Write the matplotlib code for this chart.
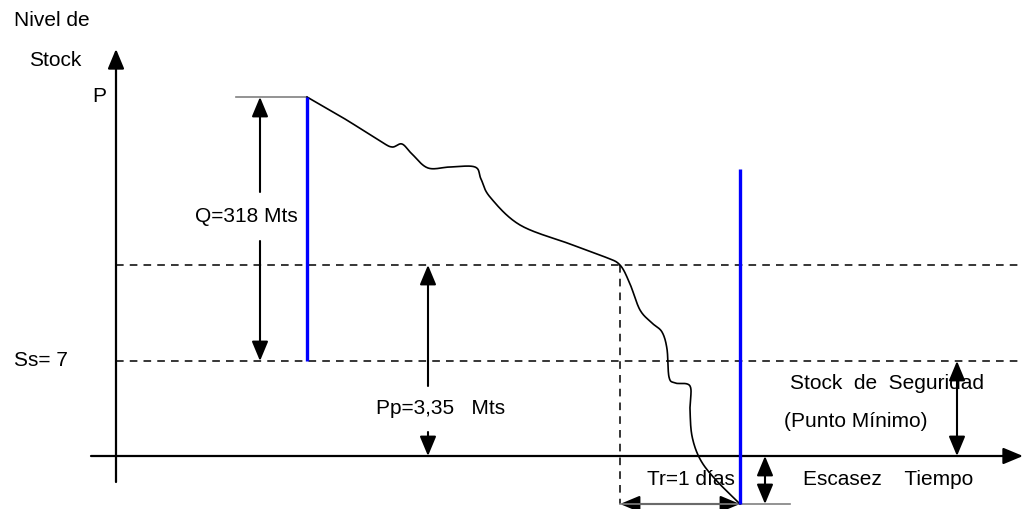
import numpy as np
import matplotlib
matplotlib.use("Agg")
import matplotlib.pyplot as plt
from matplotlib.patches import FancyArrowPatch

plt.rcParams['font.family'] = ['Liberation Sans', 'DejaVu Sans']

# diagram coordinates (pixel-like units, y grows downward)
axis_x, axis_y = 116, 457
p_level, reorder_level, ss_level = 98, 266, 362
order_x, arrival_x, reorder_x = 307, 740, 620
arrival_top, shortage_y = 170, 505

# demand curve (stock level over time)
curve_x = [307, 345, 380, 392, 402, 412, 428, 450, 475, 481, 490, 520, 570, 605, 620,
           630, 640, 652, 662, 667, 669, 675, 690, 690, 692, 700, 715, 740]
curve_y = [98, 120, 142, 148, 145, 155, 169, 168, 168, 180, 198, 226, 245, 258, 266,
           285, 311, 324, 333, 350, 378, 384, 387, 410, 437, 460, 480, 505]

labels = {
    "Nivel de": (14, 20), "Stock": (29, 61), "P": (92, 97), "Ss= 7": (14, 361),
    "Q=318 Mts": (195, 217), "Pp=3,35   Mts": (376, 409),
    "Stock  de  Seguridad": (790, 384), "(Punto Mínimo)": (784, 422),
    "Escasez    Tiempo": (803, 480), "Tr=1 días": (647, 480),
}
FS = 15


def catmull(xs, ys, n=20):
    pts = np.column_stack([xs, ys]).astype(float)
    pts = np.vstack([pts[0], pts, pts[-1]])
    out = []
    for i in range(1, len(pts) - 2):
        p0, p1, p2, p3 = pts[i - 1], pts[i], pts[i + 1], pts[i + 2]
        for t in np.linspace(0, 1, n, endpoint=False):
            t2, t3 = t * t, t * t * t
            out.append(0.5 * ((2 * p1) + (-p0 + p2) * t + (2 * p0 - 5 * p1 + 4 * p2 - p3) * t2
                              + (-p0 + 3 * p1 - 3 * p2 + p3) * t3))
    out.append(pts[-2])
    out = np.array(out)
    return out[:, 0], out[:, 1]


def arrow(ax, start, end, style='-|>', lw=1.5):
    a = FancyArrowPatch(start, end, arrowstyle=style + ',head_length=1.2,head_width=0.5',
                        mutation_scale=10, color='black', lw=lw, shrinkA=0, shrinkB=0)
    ax.add_patch(a)


fig = plt.figure(figsize=(10.24, 5.10), dpi=100)
ax = fig.add_axes([0, 0, 1, 1])
ax.set_xlim(0, 1024)
ax.set_ylim(510, 0)
ax.axis('off')

# axes
arrow(ax, (axis_x, 483), (axis_x, 50), lw=1.6)
arrow(ax, (91, axis_y), (1023, axis_y), lw=1.6)

# dashed levels
ax.plot([axis_x, 1020], [reorder_level, reorder_level], '--', color='black', lw=1.1, dashes=(5, 4))
ax.plot([axis_x, 1022], [ss_level, ss_level], '--', color='black', lw=1.1, dashes=(5, 4))
ax.plot([reorder_x, reorder_x], [reorder_level, shortage_y], '--', color='black', lw=1.1, dashes=(5, 4))

# gray reference lines
ax.plot([236, order_x], [p_level, p_level], color='#808080', lw=1.2)
ax.plot([reorder_x, 790], [shortage_y, shortage_y], color='#808080', lw=1.2)

# curve
cx, cy = catmull(curve_x, curve_y)
ax.plot(cx, cy, color='black', lw=1.2)

# blue lines
ax.plot([order_x, order_x], [p_level, ss_level], color='#0000ff', lw=2.4, solid_capstyle='butt')
ax.plot([arrival_x, arrival_x], [arrival_top, shortage_y], color='#0000ff', lw=2.4, solid_capstyle='butt')

# Q arrow
arrow(ax, (260, 193), (260, p_level))
arrow(ax, (260, 242), (260, ss_level))

# Pp arrow
arrow(ax, (428, 387), (428, reorder_level))
arrow(ax, (428, 433), (428, axis_y))

# safety stock double arrow
arrow(ax, (957, ss_level), (957, axis_y), style='<|-|>')

# shortage double arrow
arrow(ax, (765, axis_y), (765, shortage_y), style='<|-|>')

# lead time double arrow
arrow(ax, (reorder_x, shortage_y), (arrival_x, shortage_y), style='<|-|>')

for txt, (x, y) in labels.items():
    ax.text(x, y, txt, fontsize=FS, ha='left', va='center')

fig.savefig("out.png", dpi=100)
